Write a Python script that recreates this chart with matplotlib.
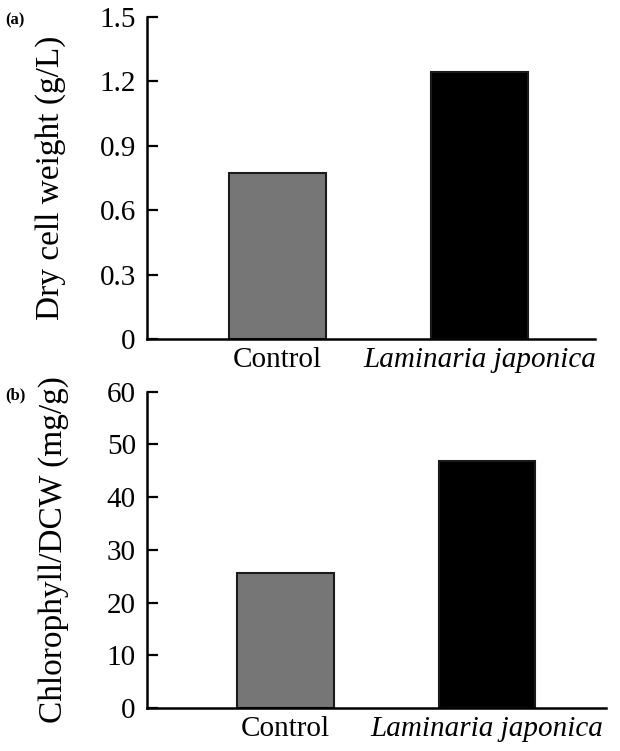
import numpy as np
import matplotlib
matplotlib.use("Agg")
import matplotlib.pyplot as plt

plt.rcParams['font.family'] = ['Liberation Serif', 'DejaVu Serif']

# data
groups = ["Control", "Laminaria japonica"]
dcw = [0.775, 1.245]            # g/L
chl = [25.6, 46.8]              # mg/g DCW
bar_colors = ["#767676", "#000000"]

fig = plt.figure(figsize=(6.2, 7.51), dpi=100)

ax_a = fig.add_axes([0.237, 0.5486, 0.722, 0.4288])
ax_b = fig.add_axes([0.237, 0.0573, 0.740, 0.4210])

panels = [
    (ax_a, dcw, "Dry cell weight (g/L)", [0, 0.3, 0.6, 0.9, 1.2, 1.5],
     ["0", "0.3", "0.6", "0.9", "1.2", "1.5"], (0, 1.5), (-0.646, 1.57), "(a)", 24),
    (ax_b, chl, "Chlorophyll/DCW (mg/g)", [0, 10, 20, 30, 40, 50, 60],
     ["0", "10", "20", "30", "40", "50", "60"], (0, 60), (-0.687, 1.59), "(b)", 27),
]

x = np.arange(len(groups))
for ax, vals, ylab, yt, ytl, ylim, xlim, tag, lpad in panels:
    ax.bar(x, vals, width=0.48, color=bar_colors, edgecolor="#1a1a1a", linewidth=1.5)
    ax.set_xlim(*xlim)
    ax.set_ylim(*ylim)
    ax.set_yticks(yt)
    ax.set_yticklabels(ytl)
    ax.set_xticks(x)
    ax.set_xticklabels(groups)
    ax.get_xticklabels()[1].set_style("italic")
    for s in ["top", "right"]:
        ax.spines[s].set_visible(False)
    for s in ["left", "bottom"]:
        ax.spines[s].set_linewidth(1.8)
    ax.tick_params(axis="y", direction="in", length=8, width=1.6, pad=8, labelsize=21)
    ax.tick_params(axis="x", length=0, pad=6, labelsize=21)
    ax.set_ylabel(ylab, fontsize=24, labelpad=lpad)
    fig.text(0.008, ax.get_position().y1 - 0.005, tag, fontsize=12, fontweight="bold",
             ha="left", va="center")

fig.savefig("out.png", dpi=100)
